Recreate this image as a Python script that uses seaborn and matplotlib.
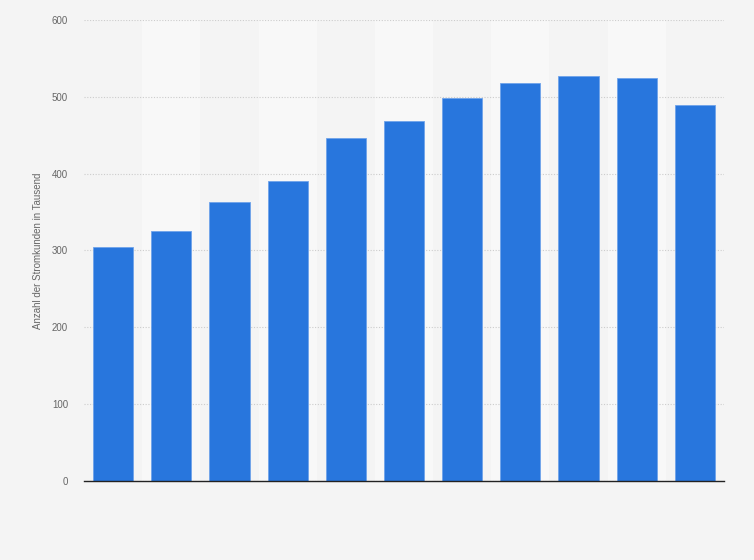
import numpy as np
import pandas as pd
import matplotlib
matplotlib.use('Agg')
import matplotlib.pyplot as plt
import seaborn as sns

# --- data (no x labels visible) ---
slots = ['1', '2', '3', '4', '5', '6', '7', '8', '9', '10', '11']
kunden = [304, 326, 363, 391, 446, 469, 499, 518, 527, 525, 490]
yticks = [0, 100, 200, 300, 400, 500, 600]

BG = '#f4f4f4'
BAND = '#f8f8f8'
BAR = '#2876dd'

df = pd.DataFrame({'slot': slots, 'kunden': kunden})

sns.set_style('white')
plt.rcParams['font.family'] = ['Liberation Sans', 'DejaVu Sans']

fig = plt.figure(figsize=(7.54, 5.6), dpi=100, facecolor=BG)
ax = fig.add_axes([84 / 754, 79 / 560, 640 / 754, 461 / 560])
ax.set_facecolor(BG)

# helle Spalten hinter jedem zweiten Balken
for i in range(len(slots)):
    if i % 2 == 1:
        ax.axvspan(i - 0.5, i + 0.5, color=BAND, zorder=0, lw=0)

sns.barplot(data=df, x='slot', y='kunden', color=BAR, width=0.69,
            edgecolor='#6fa3ea', linewidth=0.6, saturation=1, ax=ax, zorder=3)

ax.set_xlim(-0.5, len(slots) - 0.5)
ax.set_ylim(0, 600)
ax.set_yticks(yticks)
ax.set_yticklabels([str(t) for t in yticks], fontsize=7, color='#666666')
ax.tick_params(axis='y', length=0, pad=11.5)
ax.set_xticks([])
ax.set_xlabel('')
ax.set_ylabel('Anzahl der Stromkunden in Tausend', fontsize=7, color='#666666', labelpad=6)

ax.grid(axis='y', color='#cccccc', linestyle=(0, (1, 1.5)), linewidth=0.8, zorder=1)
ax.set_axisbelow(True)
for s in ['top', 'right', 'left']:
    ax.spines[s].set_visible(False)
ax.spines['bottom'].set_color('#222222')
ax.spines['bottom'].set_linewidth(1.0)
ax.spines['bottom'].set_zorder(4)

fig.savefig('out.png', dpi=100, facecolor=BG)
